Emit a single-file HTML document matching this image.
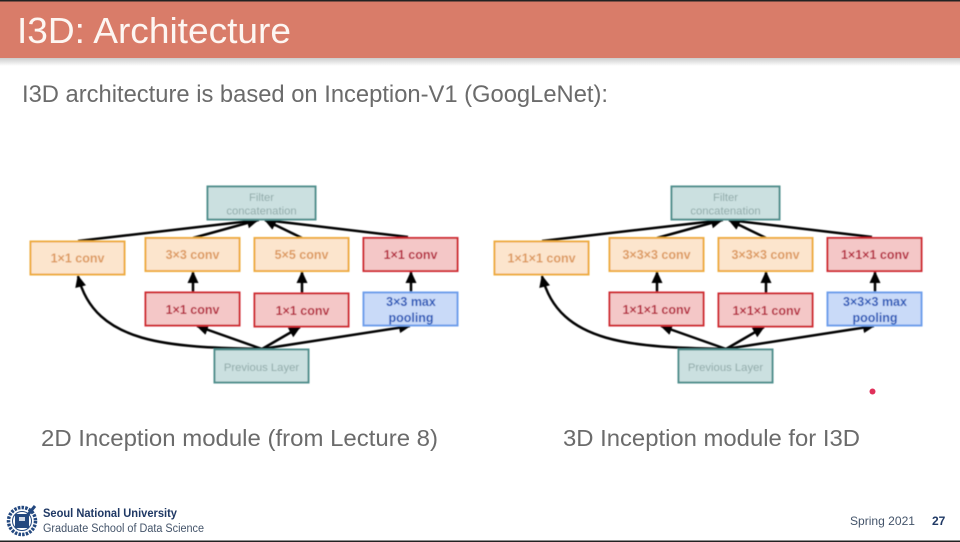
<!DOCTYPE html>
<html><head><meta charset="utf-8"><style>
html,body{margin:0;padding:0;background:#fff;width:960px;height:542px;overflow:hidden}
svg{display:block}
text{font-family:"Liberation Sans",sans-serif}
.b{font-weight:bold;font-size:12.5px;text-anchor:middle}
.o{fill:#dd9a5e}.r{fill:#b5263c}.bl{fill:#2456b8}
.g{fill:#8fa9a8;font-size:11.3px;text-anchor:middle}
.boxo{fill:#fce5cd;stroke:#eeab3e;stroke-width:2}
.boxr{fill:#f4c7c7;stroke:#cf2a33;stroke-width:2}
.boxb{fill:#c9daf8;stroke:#6d9eeb;stroke-width:2}
.boxt{fill:#cbe0e0;stroke:#4f8f8d;stroke-width:2}
.l{fill:none;stroke:#000;stroke-width:2.5}
.cap{fill:#6b6b6b;font-size:23px}
</style></head><body>
<svg width="960" height="542" viewBox="0 0 960 542" xmlns="http://www.w3.org/2000/svg">
<defs>
<linearGradient id="sh" x1="0" y1="0" x2="0" y2="1"><stop offset="0" stop-color="#ccc"/><stop offset="1" stop-color="#fff"/></linearGradient>
<marker id="a" markerUnits="userSpaceOnUse" markerWidth="14" markerHeight="12" refX="11" refY="5.5" orient="auto"><path d="M0 0L12 5.5L0 11Z" fill="#000"/></marker>
<filter id="s" x="-2%" y="-2%" width="104%" height="104%"><feGaussianBlur stdDeviation="0.4"/></filter>
<g id="common">
<path class="l" marker-end="url(#a)" d="M78 241L259 220"/>
<path class="l" marker-end="url(#a)" d="M193 238L258 220"/>
<path class="l" marker-end="url(#a)" d="M302 238L265 220"/>
<path class="l" marker-end="url(#a)" d="M408 237L265 220"/>
<path class="l" marker-end="url(#a)" d="M193 292L193 272"/>
<path class="l" marker-end="url(#a)" d="M302 293L302 272"/>
<path class="l" marker-end="url(#a)" d="M411 292L411 272"/>
<path class="l" marker-end="url(#a)" d="M262 349C170 347 95 345 78 276"/>
<path class="l" marker-end="url(#a)" d="M262 349L197 326"/>
<path class="l" marker-end="url(#a)" d="M262 349L300 327"/>
<path class="l" marker-end="url(#a)" d="M262 349L410 326"/>
<rect class="boxt" x="207.500" y="186.500" width="108" height="33"/>
<rect class="boxo" x="30.500" y="241.500" width="94" height="33"/>
<rect class="boxo" x="145.500" y="238" width="94" height="33"/>
<rect class="boxo" x="254.500" y="238" width="94" height="33"/>
<rect class="boxr" x="363.500" y="238" width="94" height="33"/>
<rect class="boxr" x="145.500" y="292.500" width="94" height="33"/>
<rect class="boxr" x="254.500" y="293.500" width="94" height="33"/>
<rect class="boxb" x="363.500" y="292.500" width="94" height="33"/>
<rect class="boxt" x="214.500" y="349.500" width="94" height="33"/>
<text class="g" x="261.500" y="201">Filter</text>
<text class="g" x="261.500" y="214.500">concatenation</text>
<text class="g" x="261.500" y="371">Previous Layer</text>
</g>
</defs>
<rect width="960" height="542" fill="#fff"/>
<rect x="0" y="58" width="960" height="8" fill="url(#sh)"/>
<rect x="0" y="1" width="960" height="57" fill="#d97c69"/>
<rect x="0" y="0" width="960" height="1.500" fill="#222"/>
<text x="17" y="43" font-size="36" fill="#fdf6f2" textLength="274" lengthAdjust="spacingAndGlyphs">I3D: Architecture</text>
<text x="22" y="102" font-size="24" fill="#6b6b6b" textLength="586" lengthAdjust="spacingAndGlyphs">I3D architecture is based on Inception-V1 (GoogLeNet):</text>

<g filter="url(#s)">
<use href="#common"/>
<text class="b o" x="77.500" y="262.500">1×1 conv</text>
<text class="b o" x="192.500" y="259">3×3 conv</text>
<text class="b o" x="301.500" y="259">5×5 conv</text>
<text class="b r" x="410.500" y="259">1×1 conv</text>
<text class="b r" x="192.500" y="314">1×1 conv</text>
<text class="b r" x="302.500" y="315">1×1 conv</text>
<text class="b bl" x="411" y="306">3×3 max</text>
<text class="b bl" x="411" y="322">pooling</text>

<use href="#common" x="464"/>
<text class="b o" x="541.500" y="262.500">1×1×1 conv</text>
<text class="b o" x="656.500" y="259">3×3×3 conv</text>
<text class="b o" x="765.500" y="259">3×3×3 conv</text>
<text class="b r" x="875" y="259">1×1×1 conv</text>
<text class="b r" x="656.500" y="314">1×1×1 conv</text>
<text class="b r" x="766.500" y="315">1×1×1 conv</text>
<text class="b bl" x="875" y="306">3×3×3 max</text>
<text class="b bl" x="875" y="322">pooling</text>
</g>

<circle cx="872.500" cy="391.500" r="3" fill="#e0305a"/>

<text class="cap" x="41" y="446" textLength="397" lengthAdjust="spacingAndGlyphs">2D Inception module (from Lecture 8)</text>
<text class="cap" x="563" y="446" textLength="297" lengthAdjust="spacingAndGlyphs">3D Inception module for I3D</text>

<!-- logo -->
<g fill="none" stroke="#23487f">
<circle cx="22" cy="521" r="13.500" stroke-width="3.500" stroke-dasharray="2.500 1.200"/>
<circle cx="22" cy="521" r="9.500" stroke-width="1"/>
</g>
<rect x="15" y="514" width="14" height="14" fill="#23487f"/>
<rect x="19" y="517" width="6" height="4" fill="#cfd8e6"/>
<path d="M26 517L35 506" stroke="#23487f" stroke-width="3"/>

<text x="43" y="517" font-size="11.500" font-weight="bold" fill="#1f3864" textLength="134" lengthAdjust="spacingAndGlyphs">Seoul National University</text>
<text x="43" y="532" font-size="11.500" fill="#44546a" textLength="161" lengthAdjust="spacingAndGlyphs">Graduate School of Data Science</text>
<text x="850" y="525" font-size="12" fill="#44546a" textLength="65" lengthAdjust="spacingAndGlyphs">Spring 2021</text>
<text x="932" y="525" font-size="12" font-weight="bold" fill="#1f3864">27</text>
<rect x="0" y="540.500" width="960" height="1.500" fill="#222"/>
</svg>
</body></html>
